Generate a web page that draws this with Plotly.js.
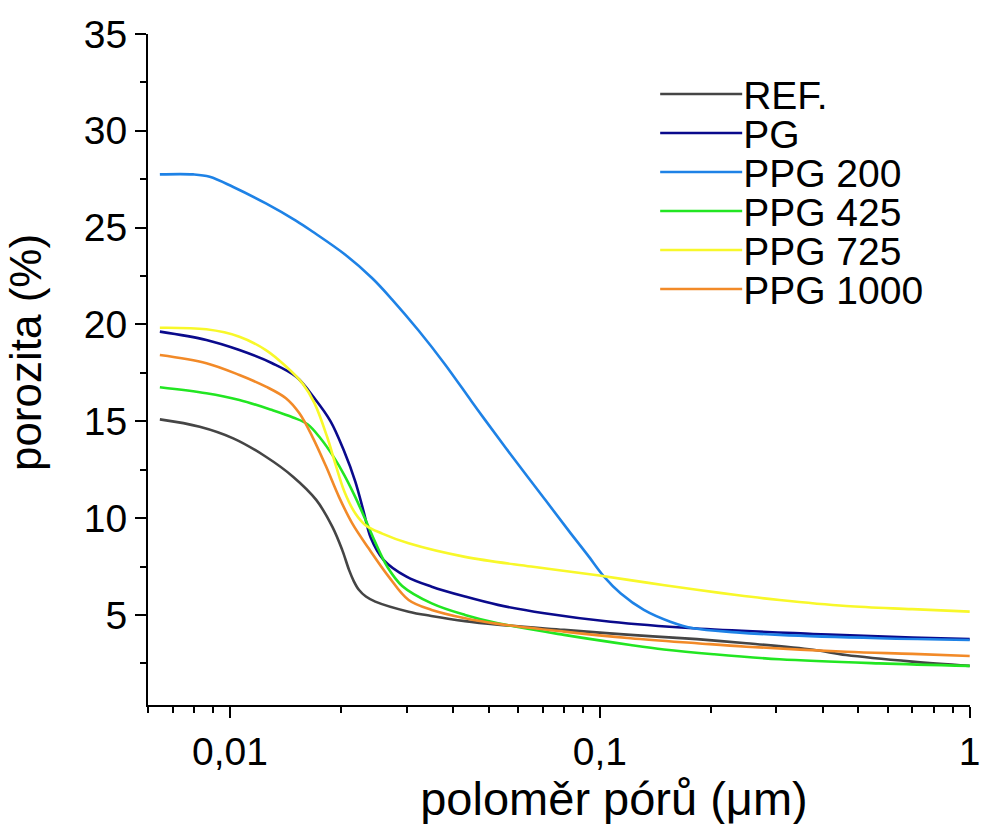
<!DOCTYPE html>
<html>
<head>
<meta charset="utf-8">
<script src="https://cdn.plot.ly/plotly-3.0.1.min.js"></script>
<style>
  html, body { margin: 0; padding: 0; background: #ffffff; }
  #chart { width: 982px; height: 824px; }
</style>
</head>
<body>
<div id="chart"></div>
<script>
// ---- data ----
const seriesNames = ["REF.", "PG", "PPG 200", "PPG 425", "PPG 725", "PPG 1000"];

const refX = [0.00646, 0.00828, 0.0102, 0.0125, 0.0148, 0.0171, 0.0189, 0.0201, 0.0210, 0.0216, 0.0223, 0.0233, 0.0247, 0.0304, 0.0350, 0.0432, 0.053, 0.080, 0.121, 0.183, 0.249, 0.377, 0.463, 0.699, 1.0];
const refY = [15.1, 14.72, 14.12, 13.17, 12.14, 10.94, 9.56, 8.36, 7.3, 6.75, 6.3, 5.95, 5.69, 5.17, 4.95, 4.68, 4.5, 4.23, 3.97, 3.75, 3.54, 3.2, 2.93, 2.59, 2.37];

const pgX = [0.00646, 0.00863, 0.0106, 0.0130, 0.0151, 0.0169, 0.0187, 0.0203, 0.0218, 0.0230, 0.0240, 0.0260, 0.0300, 0.0351, 0.0432, 0.053, 0.0708, 0.1069, 0.179, 0.377, 0.699, 1.0];
const pgY = [19.63, 19.2, 18.68, 18.0, 17.3, 16.2, 15.0, 13.5, 11.9, 10.3, 9.0, 7.85, 6.98, 6.46, 5.95, 5.52, 5.09, 4.65, 4.31, 4.02, 3.83, 3.75];

const ppg200X = [0.00646, 0.00794, 0.00881, 0.0102, 0.0125, 0.0151, 0.0167, 0.0205, 0.0242, 0.0274, 0.0323, 0.0381, 0.0449, 0.0488, 0.0576, 0.0708, 0.0835, 0.0926, 0.1026, 0.1137, 0.1315, 0.155, 0.179, 0.234, 0.306, 0.5685, 1.0];
const ppg200Y = [27.75, 27.75, 27.63, 27.1, 26.25, 25.35, 24.8, 23.6, 22.4, 21.3, 19.7, 17.95, 16.05, 15.1, 13.25, 11.0, 9.2, 8.1, 6.98, 6.12, 5.26, 4.65, 4.31, 4.1, 3.97, 3.8, 3.71];

const ppg425X = [0.00646, 0.00863, 0.0106, 0.0130, 0.0148, 0.0162, 0.0176, 0.0190, 0.0204, 0.0218, 0.0232, 0.0247, 0.0266, 0.0292, 0.0351, 0.0432, 0.053, 0.080, 0.121, 0.149, 0.203, 0.306, 0.5685, 1.0];
const ppg425Y = [16.76, 16.45, 16.1, 15.58, 15.2, 14.85, 14.1, 13.2, 12.2, 11.1, 9.95, 8.75, 7.5, 6.5, 5.6, 5.0, 4.57, 3.97, 3.45, 3.22, 2.97, 2.71, 2.5, 2.37];

const ppg725X = [0.00646, 0.00863, 0.0106, 0.0125, 0.0142, 0.0157, 0.0169, 0.0183, 0.0193, 0.0204, 0.0218, 0.0232, 0.0258, 0.0304, 0.0432, 0.0652, 0.0985, 0.134, 0.183, 0.234, 0.306, 0.463, 0.699, 1.0];
const ppg725Y = [19.83, 19.75, 19.37, 18.68, 17.82, 16.96, 15.95, 14.2, 12.75, 11.35, 10.25, 9.65, 9.2, 8.7, 8.0, 7.5, 7.05, 6.67, 6.3, 6.03, 5.77, 5.46, 5.3, 5.17];

const ppg1000X = [0.00646, 0.00863, 0.0106, 0.0125, 0.01416, 0.0154, 0.0167, 0.01815, 0.0197, 0.0214, 0.0237, 0.02685, 0.0304, 0.0351, 0.0432, 0.053, 0.080, 0.121, 0.183, 0.249, 0.463, 0.699, 1.0];
const ppg1000Y = [18.42, 18.0, 17.39, 16.79, 16.19, 15.41, 14.2, 12.7, 11.1, 9.73, 8.44, 6.98, 5.77, 5.26, 4.83, 4.54, 4.14, 3.8, 3.54, 3.36, 3.1, 2.99, 2.88];

const xTickVals = [0.01, 0.1, 1];
const xTickText = ["0,01", "0,1", "1"];
const yTickVals = [5, 10, 15, 20, 25, 30, 35];
const yTickText = ["5", "10", "15", "20", "25", "30", "35"];

const xTitle = "poloměr pórů (μm)";
const yTitle = "porozita (%)";

// ---- styling ----
const colors = ["#454545", "#0a0a8c", "#1e82e6", "#22e622", "#f8f82a", "#f28a28"];
const xs = [refX, pgX, ppg200X, ppg425X, ppg725X, ppg1000X];
const ys = [refY, pgY, ppg200Y, ppg425Y, ppg725Y, ppg1000Y];

const traces = seriesNames.map((name, i) => ({
  type: "scatter",
  mode: "lines",
  name: name,
  x: xs[i],
  y: ys[i],
  line: { color: colors[i], width: 2.6, shape: "spline", smoothing: 1.0 }
}));

const minorX = [];
[0.001, 0.01, 0.1].forEach(d => { for (let k = 2; k <= 9; k++) minorX.push(+(k * d).toPrecision(3)); });

const font = "Arial, 'Liberation Sans', Helvetica, sans-serif";

const layout = {
  width: 982,
  height: 824,
  paper_bgcolor: "#ffffff",
  plot_bgcolor: "#ffffff",
  margin: { l: 148, r: 12, t: 34, b: 119 },
  font: { family: font, color: "#000000", size: 38 },
  showlegend: true,
  legend: {
    x: 0.617, y: 0.958, xanchor: "left", yanchor: "top",
    bgcolor: "rgba(0,0,0,0)", borderwidth: 0,
    font: { family: font, size: 39, color: "#000000" },
    itemwidth: 78,
    tracegroupgap: 0
  },
  xaxis: {
    type: "log",
    range: [Math.log10(0.006), 0.0008],
    tickmode: "array",
    tickvals: xTickVals,
    ticktext: xTickText,
    ticklabeloverflow: "allow",
    ticks: "outside", ticklen: 11, tickwidth: 2, tickcolor: "#000",
    showline: true, linecolor: "#000", linewidth: 2, mirror: false,
    showgrid: false, zeroline: false,
    tickfont: { family: font, size: 39, color: "#000" },
    minor: { tickmode: "array", tickvals: minorX, ticks: "outside", ticklen: 6, tickwidth: 2, tickcolor: "#000", showgrid: false },
    title: { text: xTitle, font: { family: font, size: 47, color: "#000" }, standoff: 10 }
  },
  yaxis: {
    range: [0.35, 35],
    tickmode: "array",
    tickvals: yTickVals,
    ticktext: yTickText,
    ticks: "outside", ticklen: 11, tickwidth: 2, tickcolor: "#000",
    showline: true, linecolor: "#000", linewidth: 2, mirror: false,
    showgrid: false, zeroline: false,
    tickfont: { family: font, size: 39, color: "#000" },
    minor: { dtick: 2.5, tick0: 0, ticks: "outside", ticklen: 6, tickwidth: 2, tickcolor: "#000", showgrid: false },
    title: { text: yTitle, font: { family: font, size: 44, color: "#000" }, standoff: 28 }
  }
};

Plotly.newPlot("chart", traces, layout, { displayModeBar: false, staticPlot: true }).then(gd => {
  // legend keys: longer lines and tighter rows, as in the reference
  gd.querySelectorAll(".legend .legendlines path").forEach(p => p.setAttribute("d", "M5,0h82"));
  const items = gd.querySelectorAll(".legend .traces");
  let x0 = 0, y0 = null;
  items.forEach((g, i) => {
    const m = /translate\(\s*([-\d.]+)[ ,]+([-\d.]+)\s*\)/.exec(g.getAttribute("transform") || "");
    if (m && y0 === null) { x0 = parseFloat(m[1]); y0 = parseFloat(m[2]); }
    g.setAttribute("transform", "translate(" + x0 + "," + ((y0 || 0) + i * 39) + ")");
  });
  // axis titles sit off-centre in the reference
  const xt = gd.querySelector(".g-xtitle");
  if (xt) xt.setAttribute("transform", "translate(55,0)");
  const yt = gd.querySelector(".g-ytitle");
  if (yt) yt.setAttribute("transform", "translate(0,-17)");
});
</script>
</body>
</html>
